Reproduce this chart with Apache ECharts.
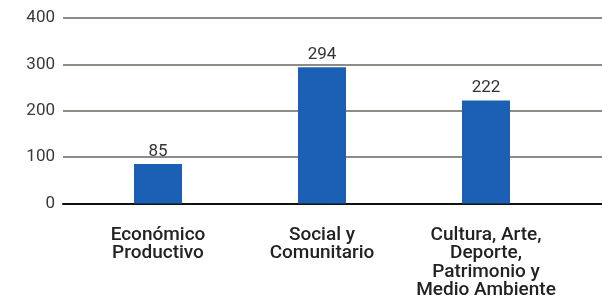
<!DOCTYPE html>
<html><head><meta charset="utf-8">
<script src="https://cdn.jsdelivr.net/npm/echarts@6/dist/echarts.min.js"></script>
<style>html,body{margin:0;padding:0;background:#fff}#c{width:602px;height:305px}</style>
</head><body><div id="c"></div>
<script>
const categories = ['Económico\nProductivo', 'Social y\nComunitario', 'Cultura, Arte,\nDeporte,\nPatrimonio y\nMedio Ambiente'];
const values = [85, 294, 222];
const yTicks = [0, 100, 200, 300, 400];

const chart = echarts.init(document.getElementById('c'), null, {renderer: 'canvas'});
const font = 'Roboto, "DejaVu Sans", sans-serif';
chart.setOption({
  backgroundColor: '#fff',
  animation: false,
  grid: [
    {left: 63, right: 0, top: 18, bottom: 101.5},
    {left: 76, right: 34, top: 18, bottom: 101.5}
  ],
  xAxis: [
    {gridIndex: 0, type: 'category', data: [''], axisLine: {show: true, lineStyle: {color: '#111', width: 2}},
     axisTick: {show: false}, axisLabel: {show: false}},
    {gridIndex: 1, type: 'category', data: categories, axisLine: {show: false}, axisTick: {show: false},
     axisLabel: {margin: 22, color: '#222', fontFamily: font, fontSize: 19, fontWeight: 500, lineHeight: 18.5, interval: 0}}
  ],
  yAxis: [
    {gridIndex: 0, type: 'value', min: yTicks[0], max: yTicks[yTicks.length-1], interval: 100,
     axisLine: {show: false}, axisTick: {show: false},
     axisLabel: {margin: 8, color: '#3a3a3a', fontFamily: font, fontSize: 17},
     splitLine: {lineStyle: {color: '#6d6560', width: 1.5}}},
    {gridIndex: 1, type: 'value', min: 0, max: 400, interval: 100, show: false, splitLine: {show: false}}
  ],
  series: [{
    type: 'bar', xAxisIndex: 1, yAxisIndex: 1, data: values, barWidth: 48,
    itemStyle: {color: '#1b60b5'},
    label: {show: true, position: 'top', distance: 4, color: '#333', fontFamily: font, fontSize: 17}
  }]
});
</script></body></html>
